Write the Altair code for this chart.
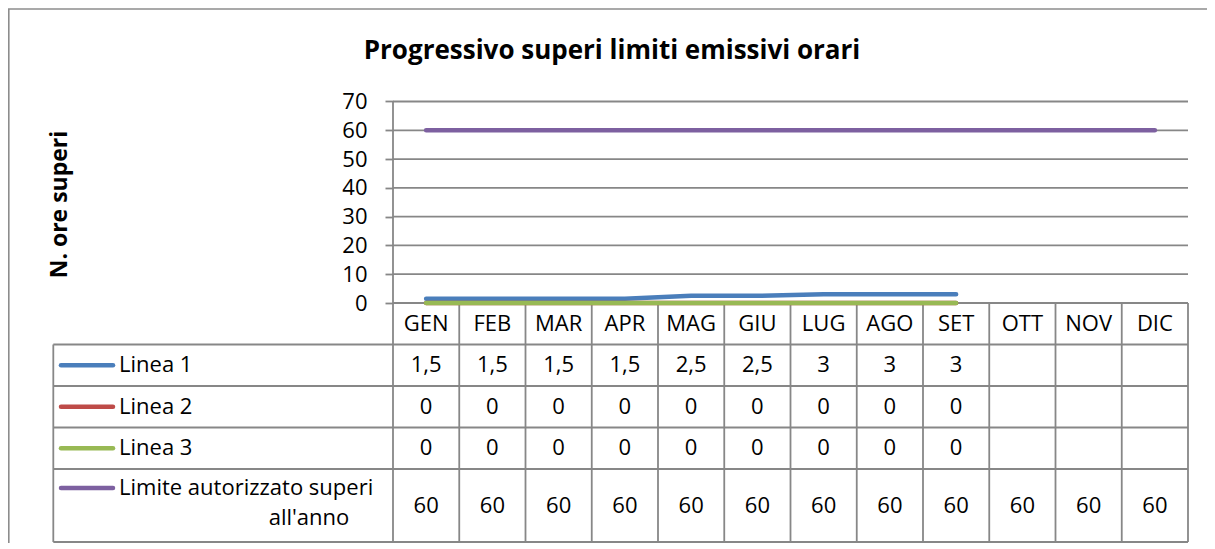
import altair as alt
import pandas as pd

# ---------------- data ----------------
months = ["GEN", "FEB", "MAR", "APR", "MAG", "GIU", "LUG", "AGO", "SET", "OTT", "NOV", "DIC"]
linea1 = [1.5, 1.5, 1.5, 1.5, 2.5, 2.5, 3, 3, 3, None, None, None]
linea2 = [0, 0, 0, 0, 0, 0, 0, 0, 0, None, None, None]
linea3 = [0, 0, 0, 0, 0, 0, 0, 0, 0, None, None, None]
limite = [60, 60, 60, 60, 60, 60, 60, 60, 60, 60, 60, 60]
series_names = ["Linea 1", "Linea 2", "Linea 3", "Limite autorizzato superi all'anno"]
series_values = [linea1, linea2, linea3, limite]
series_colors = ["#4A7EBB", "#BE4B48", "#98B954", "#7D60A0"]
y_ticks = [0, 10, 20, 30, 40, 50, 60, 70]
title_text = "Progressivo superi limiti emissivi orari"
y_title = "N. ore superi"

# ---------------- layout ----------------
W, H = 1199, 535            # view size (whole frame)
X0 = 385.0                  # view x of first month column edge (y axis)
CW = 66.25                  # month column width
Y0 = 295.0                  # view y of value 0 / table top
K = (303 - 101.5) / 70      # px per value unit
R = 41.5                    # px per table row unit
FONT = "Open Sans"
GRID = "#878787"
FRAME = "#8c8c8c"
TXT = "#000000"
LW = 1.8

n = len(months)
u_dom = [-X0 / CW, (W - X0) / CW]
v_dom = [-(H - Y0) / K, Y0 / K]
r_dom = [-Y0 / R, (H - Y0) / R]
TB = (542 - 303) / R                 # table bottom (row units)
LEG = (53.3 - 393) / CW              # legend column left edge
SW1, SW2 = (61 - 393) / CW, (113 - 393) / CW
LABX = (119 - 393) / CW
LIM2X = (309 - 393) / CW

xs = alt.Scale(domain=u_dom, nice=False, zero=False)
ys = alt.Scale(domain=v_dom, nice=False, zero=False)
rs = alt.Scale(domain=r_dom, nice=False, zero=False, reverse=True)
cs = alt.Scale(domain=series_names, range=series_colors)

axisA = alt.Axis(
    values=y_ticks, grid=False, domain=False, ticks=True, tickSize=8,
    tickColor=GRID, tickWidth=LW, labelFont=FONT, labelFontSize=22,
    labelColor=TXT, labelPadding=18, labelFlush=False, labelOverlap=False,
    offset=-X0, title=y_title, titleFont=FONT, titleFontSize=23,
    titleFontWeight="bold", titleColor=TXT, titleAngle=270,
    titleX=-327, titleY=196, titleAlign="center", titleBaseline="alphabetic",
)


def X(f):
    return alt.X(f, type="quantitative", scale=xs, axis=None)


def YV(f):
    return alt.Y(f, type="quantitative", scale=ys, axis=axisA)


def YR(f):
    return alt.Y(f, type="quantitative", scale=rs, axis=None)


# ---------------- chart part (value scale) ----------------
grid_df = pd.DataFrame({"v": y_ticks, "u0": 0, "u1": n})
grid = alt.Chart(grid_df).mark_rule(color=GRID, strokeWidth=LW).encode(
    x=X("u0"), x2="u1", y=YV("v"))

axis_df = pd.DataFrame({"u": [0], "v0": [y_ticks[0]], "v1": [y_ticks[-1]]})
axis_line = alt.Chart(axis_df).mark_rule(color=GRID, strokeWidth=LW).encode(
    x=X("u"), y=YV("v0"), y2="v1")

line_layers = []
for name, vals, col in zip(series_names, series_values, series_colors):
    d = pd.DataFrame({"u": [i + 0.5 for i in range(n)], "v": vals, "s": name}).dropna()
    line_layers.append(
        alt.Chart(d).mark_line(color=col, strokeWidth=4.5, strokeCap="round",
                               strokeJoin="round").encode(x=X("u"), y=YV("v"))
    )

chart_part = alt.layer(grid, axis_line, *line_layers)

# ---------------- table part (row scale) ----------------
h_rows = [0, 1, 2, 3, 4, TB]
h_df = pd.DataFrame({"r": h_rows, "ua": [0 if r == 0 else LEG for r in h_rows], "ub": n})
h_lines = alt.Chart(h_df).mark_rule(color=GRID, strokeWidth=LW).encode(
    x=X("ua"), x2="ub", y=YR("r"))

v_df = pd.DataFrame({"u": list(range(n + 1)) + [LEG],
                     "ra": [0] * (n + 1) + [1], "rb": TB})
v_lines = alt.Chart(v_df).mark_rule(color=GRID, strokeWidth=LW).encode(
    x=X("u"), y=YR("ra"), y2="rb")

row_center = [1.5, 2.5, 3.5, (4 + TB) / 2]
cells = [{"u": i + 0.5, "r": 0.5, "t": m} for i, m in enumerate(months)]
for k, vals in enumerate(series_values):
    for i, v in enumerate(vals):
        if v is not None:
            cells.append({"u": i + 0.5, "r": row_center[k],
                          "t": f"{v:g}".replace(".", ",")})
cell_text = alt.Chart(pd.DataFrame(cells)).mark_text(
    font=FONT, fontSize=22, color=TXT, baseline="middle", align="center").encode(
    x=X("u"), y=YR("r"), text="t:N")

sw_rows = [1.5, 2.5, 3.5, 4.46]
sw_df = pd.DataFrame({"s": series_names, "r": sw_rows, "ua": SW1, "ub": SW2})
swatches = alt.Chart(sw_df).mark_rule(strokeWidth=4.5, strokeCap="round").encode(
    x=X("ua"), x2="ub", y=YR("r"),
    color=alt.Color("s:N", scale=cs, legend=None))

last_first, last_second = series_names[3].rsplit(" ", 1)
lab_left = pd.DataFrame({"t": series_names[:3] + [last_first],
                         "r": [1.5, 2.5, 3.5, 4.45], "u": LABX})
lab_left_text = alt.Chart(lab_left).mark_text(
    font=FONT, fontSize=22, color=TXT, baseline="middle", align="left").encode(
    x=X("u"), y=YR("r"), text="t:N")
lab_c = pd.DataFrame({"t": [last_second], "r": [5.17], "u": [LIM2X]})
lab_c_text = alt.Chart(lab_c).mark_text(
    font=FONT, fontSize=22, color=TXT, baseline="middle", align="center").encode(
    x=X("u"), y=YR("r"), text="t:N")

table_part = alt.layer(h_lines, v_lines, swatches, cell_text, lab_left_text, lab_c_text)

# ---------------- frame & title ----------------
one = pd.DataFrame({"a": [0]})
frame_top = alt.Chart(one).mark_rule(color=FRAME, strokeWidth=1.6).encode(
    x=alt.value(0), x2=alt.value(W), y=alt.value(1))
frame_left = alt.Chart(one).mark_rule(color=FRAME, strokeWidth=1.6).encode(
    x=alt.value(0.8), y=alt.value(1), y2=alt.value(H))
title_mark = alt.Chart(pd.DataFrame({"t": [title_text]})).mark_text(
    font=FONT, fontSize=26, fontWeight="bold", color=TXT,
    align="center", baseline="alphabetic").encode(
    x=alt.value(612 - 8), y=alt.value(59 - 8), text="t:N")

chart = alt.layer(table_part, chart_part, frame_top, frame_left, title_mark).resolve_scale(
    y="independent"
).properties(
    width=W, height=H,
    autosize=alt.AutoSizeParams(type="none"),
    padding={"left": 0, "top": 0, "right": 0, "bottom": 0},
).configure_view(stroke=None)

chart.save("out.html", embed_options={"renderer": "svg", "actions": False})
